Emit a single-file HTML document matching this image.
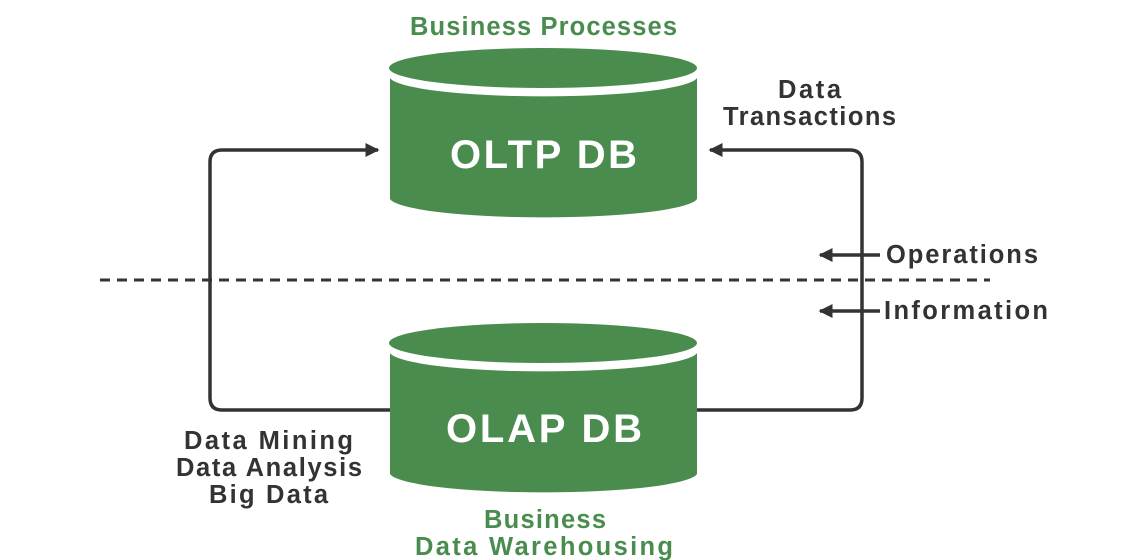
<!DOCTYPE html>
<html><head><style>body{margin:0;background:#fff}svg{display:block}</style></head><body>
<svg width="1138" height="560" viewBox="0 0 1138 560" xmlns="http://www.w3.org/2000/svg" font-family="Liberation Sans, sans-serif" font-weight="bold">
<defs>
<marker id="a" viewBox="0 0 10 10" refX="9" refY="5" markerWidth="4" markerHeight="4" orient="auto"><path d="M0,0L10,5L0,10z" fill="#333"/></marker>
</defs>
<g fill="none" stroke="#333" stroke-width="3.5">
<path d="M390,410H222Q210,410 210,398V162Q210,150 222,150H378" marker-end="url(#a)"/>
<path d="M697,410H850Q862,410 862,398V162Q862,150 850,150H710" marker-end="url(#a)"/>
<path d="M880,255H820" marker-end="url(#a)"/>
<path d="M880,311H820" marker-end="url(#a)"/>
<path d="M100,280H990" stroke-dasharray="10,7" stroke-width="3"/>
</g>
<g fill="#4a8c4e">
<ellipse cx="543" cy="68" rx="154" ry="20"/>
<path d="M390,78 A154,20 0 0 0 697,78 V199 A154,20 0 0 1 390,199Z"/>
<ellipse cx="543" cy="343" rx="154" ry="20"/>
<path d="M390,353 A154,20 0 0 0 697,353 V474 A154,20 0 0 1 390,474Z"/>
</g>
<g fill="none" stroke="#fff" stroke-width="5">
<path d="M390,74 A154,20 0 0 0 697,74"/>
<path d="M390,349 A154,20 0 0 0 697,349"/>
</g>
<g fill="#fff" font-size="40" text-anchor="start">
<text x="450" y="168" textLength="187">OLTP DB</text>
<text x="446" y="442" textLength="196">OLAP DB</text>
</g>
<g fill="#4a8c4e" font-size="25.5">
<text x="410" y="35" textLength="267">Business Processes</text>
<text x="484" y="528" textLength="122">Business</text>
<text x="415" y="555" textLength="258">Data Warehousing</text>
</g>
<g fill="#333" font-size="25.5">
<text x="778" y="98" textLength="63">Data</text>
<text x="723" y="125" textLength="173">Transactions</text>
<text x="886" y="263" textLength="152">Operations</text>
<text x="884" y="319" textLength="164">Information</text>
<text x="184" y="449" textLength="169">Data Mining</text>
<text x="176" y="476" textLength="186">Data Analysis</text>
<text x="209" y="503" textLength="119">Big Data</text>
</g>
</svg>
</body></html>
